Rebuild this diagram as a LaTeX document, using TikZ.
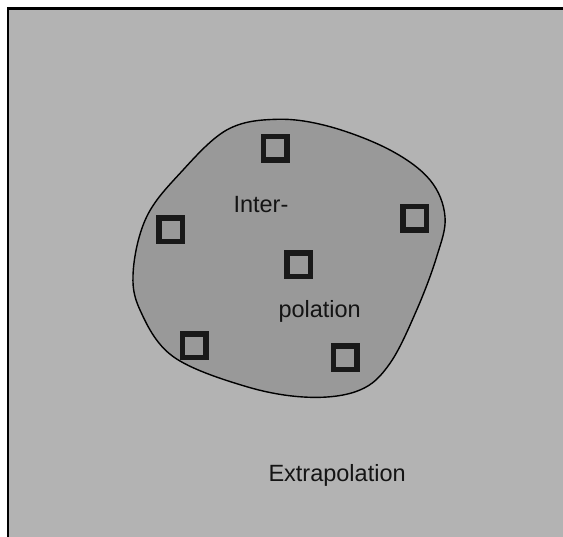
\documentclass[tikz,border=0pt]{standalone}
\usepackage{fontspec}
\setmainfont{Liberation Sans}
\begin{document}
\begin{tikzpicture}[x=1pt,y=-1pt,
  sq/.style={draw=black!90, line width=5.5pt, minimum size=23.5pt, inner sep=0pt, fill=none},
  lbl/.style={anchor=base west, inner sep=0pt, font=\fontsize{23.5}{28}\selectfont, text=black!92}]
\definecolor{bgray}{RGB}{179,179,179}
\definecolor{igray}{RGB}{153,153,153}
\useasboundingbox (0,0) rectangle (563,537);
\fill[white] (0,0) rectangle (563,537);
\fill[bgray] (8,8.5) rectangle (570,545);
\draw[line width=2.7pt] (8,545) -- (8,8.5) -- (570,8.5);
\draw[fill=igray, line width=1.4pt] plot[smooth cycle, tension=0.6] coordinates {
  (276.7,119.3) (330,126.7) (390,150) (430,180) (445,216.7) (436.7,256.7)
  (416.7,310) (390,363.3) (360,390) (310,397.3) (246.7,386.7) (173.3,356.7)
  (140,310) (133.3,270) (146.7,216.7) (180,173.3) (226.7,130)};
\node[sq] (s1) at (275.3,148.3) {};
\node[sq] (s2) at (170.7,229.7) {};
\node[sq] (s3) at (414.7,218.3) {};
\node[sq] (s4) at (298.7,264.7) {};
\node[sq] (s5) at (194,346) {};
\node[sq] (s6) at (345.3,358) {};
\node[lbl] (inter) at (233.3,212.7) {Inter-};
\node[lbl] (pol) at (278.3,317.3) {polation};
\node[lbl] (extra) at (268.3,481.7) {Extrapolation};
\end{tikzpicture}
\end{document}
